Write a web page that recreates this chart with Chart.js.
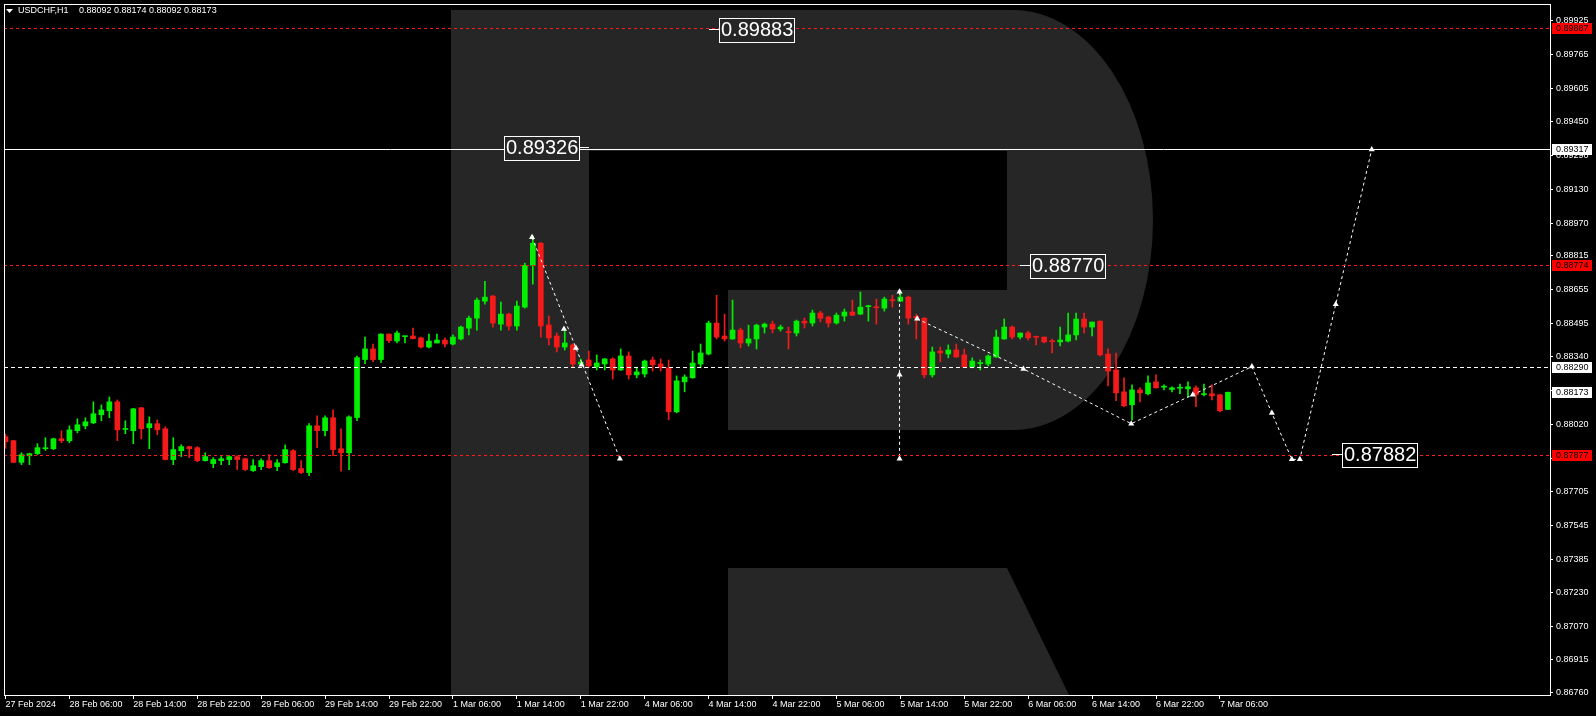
<!DOCTYPE html>
<html>
<head>
<meta charset="utf-8">
<script src="https://cdn.jsdelivr.net/npm/chart.js@4.4.1/dist/chart.umd.min.js"></script>
<style>
  html, body { margin: 0; padding: 0; background: #000; overflow: hidden; }
</style>
</head>
<body>
<canvas id="chartCanvas" width="1596" height="716"></canvas>
<script>
// --- данные ---
const symbolName = "USDCHF,H1";

// подписи оси времени, одна на каждые 8 баров H1
const timeLabels = [
  "27 Feb 2024", "28 Feb 06:00", "28 Feb 14:00", "28 Feb 22:00", "29 Feb 06:00",
  "29 Feb 14:00", "29 Feb 22:00", "1 Mar 06:00", "1 Mar 14:00", "1 Mar 22:00",
  "4 Mar 06:00", "4 Mar 14:00", "4 Mar 22:00", "5 Mar 06:00", "5 Mar 14:00",
  "5 Mar 22:00", "6 Mar 06:00", "6 Mar 14:00", "6 Mar 22:00", "7 Mar 06:00"
];
const barsPerLabel = 8;

const priceTicks = [
  "0.89925", "0.89765", "0.89605", "0.89450", "0.89290", "0.89130", "0.88970",
  "0.88815", "0.88655", "0.88495", "0.88340", "0.88180", "0.88020", "0.87860",
  "0.87705", "0.87545", "0.87385", "0.87230", "0.87070", "0.86915", "0.86760"
];

const opens = [
  0.87964, 0.87945, 0.87843, 0.87874, 0.87884, 0.87907, 0.87907, 0.87954, 0.87945, 0.87992,
  0.88015, 0.88029, 0.88067, 0.88086, 0.88128, 0.87998, 0.87992, 0.88100, 0.88006, 0.88025,
  0.88001, 0.87856, 0.87898, 0.87917, 0.87912, 0.87851, 0.87837, 0.87851, 0.87856, 0.87870,
  0.87860, 0.87804, 0.87823, 0.87851, 0.87823, 0.87841, 0.87898, 0.87814, 0.87795, 0.88015,
  0.87992, 0.88053, 0.87907, 0.87888, 0.88054, 0.88327, 0.88377, 0.88327, 0.88447, 0.88414,
  0.88435, 0.88438, 0.88429, 0.88386, 0.88405, 0.88419, 0.88400, 0.88424, 0.88475, 0.88522,
  0.88602, 0.88626, 0.88494, 0.88541, 0.88485, 0.88574, 0.88771, 0.88875, 0.88490, 0.88438,
  0.88386, 0.88396, 0.88306, 0.88325, 0.88292, 0.88306, 0.88330, 0.88278, 0.88344, 0.88255,
  0.88259, 0.88325, 0.88306, 0.88288, 0.88081, 0.88222, 0.88241, 0.88306, 0.88353, 0.88499,
  0.88438, 0.88424, 0.88466, 0.88405, 0.88424, 0.88480, 0.88494, 0.88471, 0.88458, 0.88452,
  0.88508, 0.88499, 0.88546, 0.88527, 0.88499, 0.88532, 0.88551, 0.88541, 0.88576, 0.88576,
  0.88569, 0.88608, 0.88602, 0.88621, 0.88530, 0.88522, 0.88255, 0.88367, 0.88353, 0.88372,
  0.88349, 0.88292, 0.88308, 0.88306, 0.88339, 0.88424, 0.88480, 0.88433, 0.88452, 0.88435,
  0.88433, 0.88414, 0.88410, 0.88414, 0.88443, 0.88518, 0.88480, 0.88508, 0.88353, 0.88278,
  0.88175, 0.88114, 0.88184, 0.88166, 0.88222, 0.88197, 0.88186, 0.88192, 0.88189, 0.88194,
  0.88162, 0.88166, 0.88161, 0.88092
];
const highs = [
  0.87976, 0.87947, 0.87888, 0.87886, 0.87931, 0.87959, 0.87957, 0.87992, 0.88015, 0.88048,
  0.88053, 0.88128, 0.88114, 0.88151, 0.88137, 0.88039, 0.88097, 0.88102, 0.88057, 0.88043,
  0.88011, 0.87959, 0.87926, 0.87919, 0.87917, 0.87888, 0.87865, 0.87870, 0.87874, 0.87874,
  0.87862, 0.87856, 0.87860, 0.87879, 0.87856, 0.87926, 0.87903, 0.87851, 0.88025, 0.88062,
  0.88062, 0.88090, 0.88001, 0.88062, 0.88344, 0.88433, 0.88400, 0.88448, 0.88448, 0.88461,
  0.88437, 0.88475, 0.88433, 0.88447, 0.88447, 0.88429, 0.88443, 0.88485, 0.88532, 0.88616,
  0.88696, 0.88630, 0.88598, 0.88546, 0.88602, 0.88781, 0.88910, 0.88878, 0.88532, 0.88452,
  0.88461, 0.88400, 0.88330, 0.88367, 0.88349, 0.88332, 0.88335, 0.88377, 0.88363, 0.88292,
  0.88325, 0.88339, 0.88330, 0.88325, 0.88250, 0.88255, 0.88367, 0.88400, 0.88508, 0.88630,
  0.88541, 0.88607, 0.88475, 0.88489, 0.88494, 0.88499, 0.88508, 0.88489, 0.88480, 0.88513,
  0.88522, 0.88560, 0.88555, 0.88532, 0.88546, 0.88565, 0.88607, 0.88645, 0.88583, 0.88612,
  0.88621, 0.88630, 0.88640, 0.88626, 0.88541, 0.88525, 0.88386, 0.88386, 0.88396, 0.88400,
  0.88377, 0.88335, 0.88325, 0.88349, 0.88466, 0.88518, 0.88485, 0.88452, 0.88461, 0.88438,
  0.88433, 0.88424, 0.88480, 0.88546, 0.88546, 0.88546, 0.88504, 0.88510, 0.88377, 0.88358,
  0.88241, 0.88208, 0.88194, 0.88250, 0.88255, 0.88208, 0.88199, 0.88212, 0.88222, 0.88203,
  0.88212, 0.88208, 0.88162, 0.88174
];
const lows = [
  0.87909, 0.87841, 0.87832, 0.87832, 0.87879, 0.87899, 0.87903, 0.87935, 0.87935, 0.87982,
  0.88001, 0.88025, 0.88039, 0.88053, 0.87945, 0.87978, 0.87931, 0.87954, 0.87907, 0.87973,
  0.87854, 0.87832, 0.87870, 0.87865, 0.87846, 0.87849, 0.87818, 0.87832, 0.87832, 0.87809,
  0.87804, 0.87800, 0.87809, 0.87814, 0.87804, 0.87839, 0.87804, 0.87790, 0.87780, 0.87912,
  0.87968, 0.87874, 0.87801, 0.87809, 0.88039, 0.88308, 0.88317, 0.88313, 0.88407, 0.88405,
  0.88405, 0.88424, 0.88382, 0.88382, 0.88405, 0.88386, 0.88396, 0.88419, 0.88443, 0.88466,
  0.88588, 0.88480, 0.88466, 0.88466, 0.88466, 0.88569, 0.88682, 0.88433, 0.88396, 0.88363,
  0.88372, 0.88288, 0.88300, 0.88288, 0.88278, 0.88278, 0.88235, 0.88276, 0.88235, 0.88241,
  0.88245, 0.88273, 0.88273, 0.88043, 0.88076, 0.88175, 0.88239, 0.88288, 0.88349, 0.88424,
  0.88414, 0.88422, 0.88382, 0.88391, 0.88377, 0.88452, 0.88452, 0.88461, 0.88377, 0.88438,
  0.88475, 0.88485, 0.88504, 0.88480, 0.88494, 0.88508, 0.88534, 0.88539, 0.88508, 0.88494,
  0.88555, 0.88574, 0.88600, 0.88494, 0.88424, 0.88241, 0.88245, 0.88316, 0.88335, 0.88337,
  0.88290, 0.88288, 0.88278, 0.88297, 0.88337, 0.88422, 0.88424, 0.88424, 0.88419, 0.88396,
  0.88405, 0.88358, 0.88391, 0.88410, 0.88419, 0.88452, 0.88438, 0.88344, 0.88203, 0.88133,
  0.88105, 0.88043, 0.88128, 0.88161, 0.88192, 0.88184, 0.88175, 0.88166, 0.88151, 0.88105,
  0.88156, 0.88137, 0.88081, 0.88092
];
const closes = [
  0.87940, 0.87843, 0.87879, 0.87884, 0.87912, 0.87910, 0.87954, 0.87945, 0.87996, 0.88020,
  0.88034, 0.88072, 0.88090, 0.88128, 0.87996, 0.88000, 0.88095, 0.88001, 0.88025, 0.87996,
  0.87856, 0.87903, 0.87917, 0.87907, 0.87851, 0.87870, 0.87856, 0.87860, 0.87870, 0.87856,
  0.87809, 0.87827, 0.87851, 0.87818, 0.87841, 0.87903, 0.87809, 0.87795, 0.88015, 0.87992,
  0.88053, 0.87903, 0.87888, 0.88057, 0.88336, 0.88377, 0.88327, 0.88447, 0.88416, 0.88452,
  0.88436, 0.88425, 0.88386, 0.88414, 0.88419, 0.88400, 0.88433, 0.88480, 0.88522, 0.88607,
  0.88621, 0.88499, 0.88541, 0.88485, 0.88579, 0.88771, 0.88875, 0.88485, 0.88429, 0.88386,
  0.88405, 0.88306, 0.88315, 0.88297, 0.88311, 0.88330, 0.88278, 0.88344, 0.88255, 0.88269,
  0.88320, 0.88302, 0.88288, 0.88081, 0.88227, 0.88245, 0.88311, 0.88358, 0.88499, 0.88433,
  0.88424, 0.88466, 0.88405, 0.88424, 0.88489, 0.88494, 0.88471, 0.88480, 0.88454, 0.88508,
  0.88499, 0.88546, 0.88522, 0.88499, 0.88536, 0.88551, 0.88536, 0.88574, 0.88579, 0.88571,
  0.88612, 0.88604, 0.88621, 0.88522, 0.88522, 0.88255, 0.88363, 0.88358, 0.88372, 0.88339,
  0.88292, 0.88320, 0.88311, 0.88344, 0.88433, 0.88480, 0.88433, 0.88452, 0.88429, 0.88432,
  0.88410, 0.88411, 0.88419, 0.88443, 0.88518, 0.88480, 0.88504, 0.88349, 0.88273, 0.88170,
  0.88109, 0.88184, 0.88170, 0.88217, 0.88194, 0.88199, 0.88194, 0.88194, 0.88199, 0.88161,
  0.88166, 0.88156, 0.88086, 0.88173
];

// уровни
const redLevels = [0.89887, 0.88774, 0.87877];
const solidLevel = 0.89317;
const dashLevel = 0.88290;

// текстовые метки на графике: текст, бар привязки, сторона
const noteTexts = ["0.89883", "0.89326", "0.88770", "0.87882"];
const noteBars = [88, 73, 127, 166];
const noteSides = ["right", "left", "right", "right"];

// прогнозные линии (номер бара, цена)
const pathA_bars = [65.9, 76.9];
const pathA_prices = [0.88903, 0.87860];
const pathB_bars = [111.9, 111.9];
const pathB_prices = [0.88646, 0.87860];
const pathC_bars = [114.1, 127.4, 140.9, 148.6, 156.0, 158.5, 161.0, 162.0, 166.5, 171.0];
const pathC_prices = [0.88519, 0.88283, 0.88025, 0.88161, 0.88294, 0.88075, 0.87857, 0.87857, 0.88588, 0.89316];
// стрелки-метки
const markBars = [65.9, 69.9, 71.4, 72.1, 76.9, 111.9, 111.9, 111.9, 114.1, 127.4, 140.9, 148.6, 156.0, 158.5, 161.0, 162.0, 166.5, 171.0];
const markPrices = [0.88903, 0.88471, 0.88381, 0.88302, 0.87860, 0.88646, 0.88255, 0.87860, 0.88519, 0.88283, 0.88025, 0.88161, 0.88294, 0.88075, 0.87857, 0.87857, 0.88588, 0.89316];

// диапазоны осей
const xMin = -0.1875, xMax = 193.3125;
const yMin = 0.867473, yMax = 0.900015;

const UP = "#00f000";
const DOWN = "#f51a1a";
const RED_LINE = "#ff1a1a";
const LOGO = "#262626";
const FONT = '"Liberation Sans", Arial, sans-serif';

// --- фон с логотипом (водяной знак) ---
function drawLogo(ctx, a) {
  ctx.save();
  ctx.beginPath();
  ctx.rect(a.left, a.top, a.right - a.left, a.bottom - a.top);
  ctx.clip();
  ctx.fillStyle = LOGO;
  // ножка
  ctx.fillRect(451, 10, 138, a.bottom - 10);
  // верх и чаша
  ctx.beginPath();
  ctx.moveTo(589, 10);
  ctx.lineTo(1013, 10);
  ctx.ellipse(1013, 220, 140, 210, 0, -Math.PI / 2, Math.PI / 2, false);
  ctx.lineTo(728, 430);
  ctx.lineTo(728, 290);
  ctx.lineTo(1007, 290);
  ctx.lineTo(1007, 151);
  ctx.lineTo(589, 151);
  ctx.closePath();
  ctx.fill();
  // нога
  ctx.beginPath();
  ctx.moveTo(728, 568);
  ctx.lineTo(1007, 568);
  ctx.lineTo(1069, a.bottom);
  ctx.lineTo(728, a.bottom);
  ctx.closePath();
  ctx.fill();
  ctx.restore();
}

function hLine(ctx, a, y, color, dash) {
  const yy = Math.round(y) + 0.5;
  ctx.save();
  ctx.strokeStyle = color;
  ctx.lineWidth = 1;
  ctx.setLineDash(dash);
  ctx.beginPath();
  ctx.moveTo(a.left, yy);
  ctx.lineTo(a.right, yy);
  ctx.stroke();
  ctx.restore();
}

function axisTag(ctx, ys, value, bg, fg) {
  const y = Math.round(ys.getPixelForValue(value));
  ctx.fillStyle = bg;
  ctx.fillRect(ys.left + 2, y - 5, 40, 11);
  ctx.fillStyle = fg;
  ctx.font = "9px " + FONT;
  ctx.textAlign = "left";
  ctx.textBaseline = "middle";
  ctx.fillText(value.toFixed(5), ys.left + 6, y + 0.5);
}

const mtPlugin = {
  id: "mtDecor",
  beforeDraw(chart) {
    const { ctx, chartArea } = chart;
    ctx.save();
    ctx.fillStyle = "#000";
    ctx.fillRect(0, 0, chart.width, chart.height);
    ctx.restore();
    drawLogo(ctx, chartArea);
  },
  afterDatasetsDraw(chart) {
    const { ctx, chartArea: a } = chart;
    const ys = chart.scales.y;
    redLevels.forEach(v => hLine(ctx, a, ys.getPixelForValue(v), RED_LINE, [3, 3]));
    hLine(ctx, a, ys.getPixelForValue(solidLevel), "#fff", []);
    hLine(ctx, a, ys.getPixelForValue(dashLevel), "#fff", [4, 3]);
  },
  afterDraw(chart) {
    const { ctx, chartArea: a } = chart;
    const xs = chart.scales.x, ys = chart.scales.y;

    // текстовые метки с рамкой
    ctx.save();
    ctx.font = "20px " + FONT;
    noteTexts.forEach((t, k) => {
      const yc = Math.round(ys.getPixelForValue(parseFloat(t)));
      const xa = Math.round(xs.getPixelForValue(noteBars[k]));
      const w = Math.ceil(ctx.measureText(t).width) + 2;
      const h = 24;
      const bx = noteSides[k] === "right" ? xa + 10 : xa - 10 - w;
      const by = yc - 11;
      ctx.save();
      ctx.beginPath();
      ctx.rect(bx, by, w, h);
      ctx.clip();
      ctx.fillStyle = "#000";
      ctx.fillRect(bx, by, w, h);
      drawLogo(ctx, a);
      ctx.restore();
      ctx.strokeStyle = "#fff";
      ctx.lineWidth = 1;
      ctx.beginPath();
      const sx0 = noteSides[k] === "right" ? xa : bx + w;
      ctx.moveTo(sx0, yc + 0.5);
      ctx.lineTo(sx0 + 10, yc + 0.5);
      ctx.stroke();
      ctx.strokeRect(bx + 0.5, by + 0.5, w, h);
      ctx.fillStyle = "#fff";
      ctx.textAlign = "left";
      ctx.textBaseline = "middle";
      ctx.fillText(t, bx + 2, yc + 1.5);
    });
    ctx.restore();

    // рамка графика
    ctx.save();
    ctx.strokeStyle = "#fff";
    ctx.lineWidth = 1;
    ctx.strokeRect(a.left + 0.5, a.top + 0.5, a.right - a.left, a.bottom - a.top);
    ctx.restore();

    // метки цен на шкале
    ctx.save();
    const last = closes[closes.length - 1];
    redLevels.forEach(v => axisTag(ctx, ys, v, "#ff0000", "#000"));
    axisTag(ctx, ys, solidLevel, "#fff", "#000");
    axisTag(ctx, ys, dashLevel, "#fff", "#000");
    axisTag(ctx, ys, last, "#fff", "#000");
    ctx.restore();

    // заголовок
    ctx.save();
    ctx.fillStyle = "#fff";
    ctx.beginPath();
    ctx.moveTo(6, 9);
    ctx.lineTo(13, 9);
    ctx.lineTo(9.5, 13);
    ctx.closePath();
    ctx.fill();
    ctx.font = "9px " + FONT;
    ctx.textAlign = "left";
    ctx.textBaseline = "middle";
    const n = closes.length - 1;
    ctx.fillText(symbolName, 18, 11);
    const ohlc = [opens[n], highs[n], lows[n], closes[n]].map(v => v.toFixed(5)).join(" ");
    ctx.fillText(ohlc, 79, 11);
    ctx.restore();
  }
};

const idx = opens.map((_, i) => i);
const candleColors = idx.map(i => (closes[i] >= opens[i] ? UP : DOWN));
const toPoints = (bars, prices) => bars.map((b, k) => ({ x: b, y: prices[k] }));

const forecastLine = (bars, prices) => ({
  type: "line",
  data: toPoints(bars, prices),
  borderColor: "#fff",
  borderWidth: 1,
  borderDash: [3, 3],
  pointRadius: 0,
  tension: 0,
  order: 2
});

new Chart(document.getElementById("chartCanvas").getContext("2d"), {
  type: "bar",
  data: {
    datasets: [
      {
        label: "wicks",
        data: idx.map(i => ({ x: i, y: [lows[i], highs[i]] })),
        backgroundColor: candleColors,
        barThickness: 1,
        minBarLength: 1,
        grouped: false,
        order: 4
      },
      {
        label: "bodies",
        data: idx.map(i => ({ x: i, y: [opens[i], closes[i]] })),
        backgroundColor: candleColors,
        barThickness: 5,
        minBarLength: 1,
        grouped: false,
        order: 3
      },
      forecastLine(pathA_bars, pathA_prices),
      forecastLine(pathB_bars, pathB_prices),
      forecastLine(pathC_bars, pathC_prices),
      {
        type: "line",
        data: toPoints(markBars, markPrices),
        showLine: false,
        pointStyle: "triangle",
        pointRadius: 3.5,
        pointBackgroundColor: "#fff",
        pointBorderColor: "#fff",
        pointBorderWidth: 0,
        order: 1
      }
    ]
  },
  options: {
    responsive: false,
    animation: false,
    events: [],
    layout: { padding: { left: 2, top: 2, right: 0, bottom: 0 } },
    plugins: { legend: { display: false }, tooltip: { enabled: false } },
    scales: {
      x: {
        type: "linear",
        min: xMin,
        max: xMax,
        offset: false,
        bounds: "data",
        border: { display: false },
        grid: { drawOnChartArea: false, drawTicks: true, tickLength: 4, color: "#fff", offset: false },
        ticks: {
          color: "#fff",
          font: { family: FONT, size: 9 },
          align: "start",
          padding: 0,
          autoSkip: false,
          maxRotation: 0,
          callback: (v, k) => timeLabels[k]
        },
        afterBuildTicks: s => { s.ticks = timeLabels.map((_, k) => ({ value: k * barsPerLabel })); },
        afterFit: s => { s.height = 21; s.paddingLeft = 0; s.paddingRight = 0; }
      },
      y: {
        type: "linear",
        position: "right",
        min: yMin,
        max: yMax,
        beginAtZero: false,
        bounds: "data",
        border: { display: false },
        grid: { drawOnChartArea: false, drawTicks: true, tickLength: 3, color: "#fff" },
        ticks: {
          color: "#fff",
          font: { family: FONT, size: 9 },
          padding: 3,
          autoSkip: false,
          callback: (v, k) => priceTicks[k]
        },
        afterBuildTicks: s => { s.ticks = priceTicks.map(t => ({ value: parseFloat(t) })); },
        afterFit: s => { s.width = 46; s.paddingTop = 0; s.paddingBottom = 0; }
      }
    }
  },
  plugins: [mtPlugin]
});
</script>
</body>
</html>
